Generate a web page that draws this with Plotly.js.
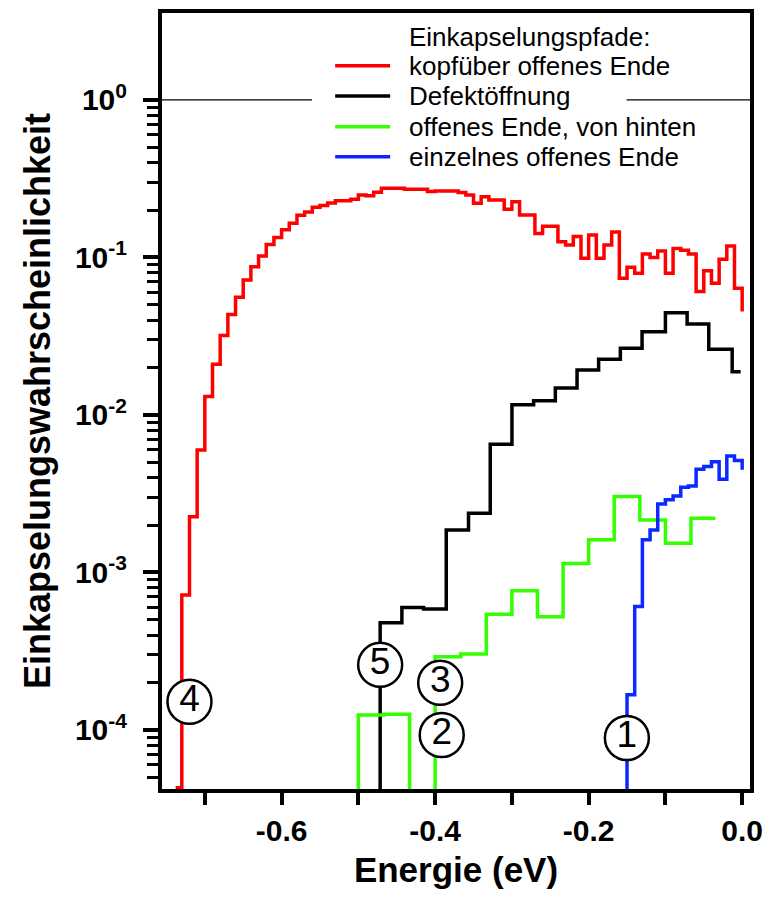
<!DOCTYPE html>
<html><head><meta charset="utf-8">
<script src="https://cdn.plot.ly/plotly-3.0.1.min.js"></script>
<style>html,body{margin:0;padding:0;background:#fff}#chart{width:772px;height:903px}</style>
</head><body><div id="chart"></div>
<script>
// empty bin marker (zero counts; lies below the axis floor)
const EMPTY = 1e-6;

// red: kopfüber offenes Ende (bin starts, eV) and probabilities
const redE = [-0.738,-0.73,-0.72,-0.71,-0.70,-0.69,-0.68,-0.67,-0.66,-0.65,-0.64,-0.63,-0.62,-0.61,-0.60,-0.59,-0.58,-0.57,-0.56,-0.55,-0.54,-0.53,-0.52,-0.51,-0.50,-0.49,-0.48,-0.47,-0.46,-0.45,-0.44,-0.43,-0.42,-0.41,-0.40,-0.39,-0.38,-0.37,-0.36,-0.35,-0.34,-0.33,-0.32,-0.31,-0.30,-0.29,-0.28,-0.27,-0.26,-0.25,-0.24,-0.23,-0.22,-0.21,-0.20,-0.19,-0.18,-0.17,-0.16,-0.15,-0.14,-0.13,-0.12,-0.11,-0.10,-0.09,-0.08,-0.07,-0.06,-0.05,-0.04,-0.03,-0.02,-0.01,0.00];
const redP = [4.3e-5,7.2e-4,2.26e-3,6.0e-3,1.31e-2,2.10e-2,3.19e-2,4.35e-2,5.58e-2,7.2e-2,8.74e-2,0.102,0.121,0.134,0.150,0.165,0.185,0.194,0.208,0.214,0.222,0.229,0.229,0.234,0.249,0.246,0.259,0.275,0.275,0.275,0.271,0.271,0.271,0.262,0.264,0.264,0.264,0.258,0.249,0.221,0.243,0.232,0.232,0.202,0.226,0.186,0.186,0.142,0.158,0.158,0.126,0.120,0.136,0.0989,0.139,0.0989,0.120,0.145,0.0738,0.0867,0.0794,0.105,0.100,0.110,0.0794,0.114,0.111,0.105,0.0607,0.0824,0.0686,0.0974,0.118,0.0638,0.0453];

// black: Defektöffnung
const blackE = [-0.4716,-0.4716,-0.4433,-0.4151,-0.3855,-0.3565,-0.3282,-0.2999,-0.2717,-0.2434,-0.2151,-0.1870,-0.1587,-0.1304,-0.1000,-0.0717,-0.0435,-0.0130,-0.002];
const blackP = [EMPTY,4.8e-4,5.98e-4,5.86e-4,1.86e-3,2.38e-3,6.52e-3,1.16e-2,1.23e-2,1.48e-2,1.93e-2,2.26e-2,2.65e-2,3.38e-2,4.46e-2,3.78e-2,2.61e-2,1.88e-2,1.88e-2];

// green: offenes Ende, von hinten
const greenE = [-0.5,-0.5,-0.4667,-0.4333,-0.4,-0.3667,-0.3333,-0.3,-0.2667,-0.2333,-0.2,-0.1667,-0.1333,-0.1,-0.0667,-0.0348];
const greenP = [EMPTY,1.245e-4,1.26e-4,EMPTY,2.92e-4,3.04e-4,5.43e-4,7.64e-4,5.24e-4,1.14e-3,1.61e-3,3.03e-3,2.15e-3,1.53e-3,2.21e-3,2.21e-3];

// blue: einzelnes offenes Ende
const blueE = [-0.15,-0.15,-0.14,-0.13,-0.12,-0.11,-0.10,-0.09,-0.08,-0.07,-0.06,-0.05,-0.04,-0.03,-0.02,-0.01,0.00];
const blueP = [EMPTY,1.67e-4,6.07e-4,1.61e-3,1.86e-3,2.72e-3,2.89e-3,3.06e-3,3.48e-3,3.54e-3,4.52e-3,4.70e-3,5.05e-3,3.91e-3,5.49e-3,5.13e-3,4.48e-3];

const seriesNames = ['kopfüber offenes Ende','Defektöffnung','offenes Ende, von hinten','einzelnes offenes Ende'];
const seriesColors = ['#ff0000','#000000','#33ff00','#0a28ff'];
const legendTitle = 'Einkapselungspfade:';

// circled path labels
const markLabel = ['1','2','3','4','5'];
const markE = [-0.1502,-0.3914,-0.3934,-0.720,-0.4716];
const markP = [8.89e-5,9.29e-5,1.99e-4,1.51e-4,2.59e-4];

const xTickVals = [-0.6,-0.4,-0.2,0.0];
const xTickText = ['-0.6','-0.4','-0.2','0.0'];
const xMinorVals = [-0.7,-0.5,-0.3,-0.1];
const yTickVals = [1e-4,1e-3,1e-2,1e-1,1];
const yTickText = ['10<sup>-4</sup>','10<sup>-3</sup>','10<sup>-2</sup>','10<sup>-1</sup>','10<sup>0</sup>'];

const FONT = 'Liberation Sans, Arial, Helvetica, sans-serif';

const xs = [redE, blackE, greenE, blueE];
const ys = [redP, blackP, greenP, blueP];
const traces = xs.map((x,i)=>({
  x: x, y: ys[i], name: seriesNames[i], type:'scatter', mode:'lines',
  line:{shape:'hv', color: seriesColors[i], width: 3.5},
  showlegend:false, hoverinfo:'x+y'
}));
// circled labels as markers with centered text
traces.push({
  x: markE, y: markP, text: markLabel, type:'scatter', mode:'markers+text',
  marker:{symbol:'circle', size:44, color:'#ffffff', line:{color:'#000000', width:2.5}},
  textposition:'middle center', textfont:{family:FONT, size:37, color:'#000'},
  showlegend:false, hoverinfo:'skip', cliponaxis:false
});

const yMinor = [];
for (let d=-5; d<=-1; d++) for (let m=2; m<=9; m++) yMinor.push(m*Math.pow(10,d));

const shapes = [];
const annotations = [];
// reference line at 1 (interrupted by the legend)
shapes.push({type:'line', xref:'paper', yref:'y', x0:0, x1:0.255, y0:1, y1:1, line:{color:'#000', width:1.2}, layer:'below'});
shapes.push({type:'line', xref:'paper', yref:'y', x0:0.79, x1:1, y0:1, y1:1, line:{color:'#000', width:1.2}, layer:'below'});

// legend
const legendRowsY = [0.932, 0.893, 0.8535, 0.8148];
annotations.push({xref:'paper', yref:'paper', x:0.417, y:0.9695, xanchor:'left', yanchor:'middle', showarrow:false,
  text: legendTitle, font:{family:FONT, size:26, color:'#000'}});
seriesNames.forEach((n,i)=>{
  shapes.push({type:'line', xref:'paper', yref:'paper', x0:0.2945, x1:0.388, y0:legendRowsY[i], y1:legendRowsY[i],
    line:{color:seriesColors[i], width:3.5}});
  annotations.push({xref:'paper', yref:'paper', x:0.417, y:legendRowsY[i], xanchor:'left', yanchor:'middle', showarrow:false,
    text:n, font:{family:FONT, size:26, color:'#000'}});
});

const layout = {
  width:772, height:903,
  margin:{l:162, r:22, t:13, b:114, pad:0},
  paper_bgcolor:'#fff', plot_bgcolor:'#fff',
  font:{family:FONT, color:'#000'},
  xaxis:{
    range:[-0.7558, 0.0102], showline:true, linecolor:'#000', linewidth:4, mirror:true,
    showgrid:false, zeroline:false,
    tickmode:'array', tickvals:xTickVals, ticktext:xTickText,
    ticks:'outside', ticklen:12, tickwidth:4, tickcolor:'#000',
    tickfont:{family:FONT, size:30, weight:'bold', color:'#000'},
    minor:{tickmode:'array', tickvals:xMinorVals, ticks:'outside', ticklen:12, tickwidth:4, tickcolor:'#000', showgrid:false},
    title:{text:'Energie (eV)', font:{family:FONT, size:35, weight:'bold', color:'#000'}, standoff:12}
  },
  yaxis:{
    type:'log', range:[-4.375, 0.552], showline:true, linecolor:'#000', linewidth:4, mirror:true,
    showgrid:false, zeroline:false,
    tickmode:'array', tickvals:yTickVals, ticktext:yTickText,
    ticks:'outside', ticklen:15, tickwidth:4, tickcolor:'#000', ticklabelstandoff:10,
    tickfont:{family:FONT, size:30, weight:'bold', color:'#000'},
    minor:{tickmode:'array', tickvals:yMinor, ticks:'outside', ticklen:11, tickwidth:3, tickcolor:'#000', showgrid:false},
    title:{text:'Einkapselungswahrscheinlichkeit', font:{family:FONT, size:36, weight:'bold', color:'#000'}, standoff:14}
  },
  shapes: shapes,
  annotations: annotations,
  showlegend:false
};

Plotly.newPlot('chart', traces, layout, {displayModeBar:false, staticPlot:true});
</script>
</body></html>
